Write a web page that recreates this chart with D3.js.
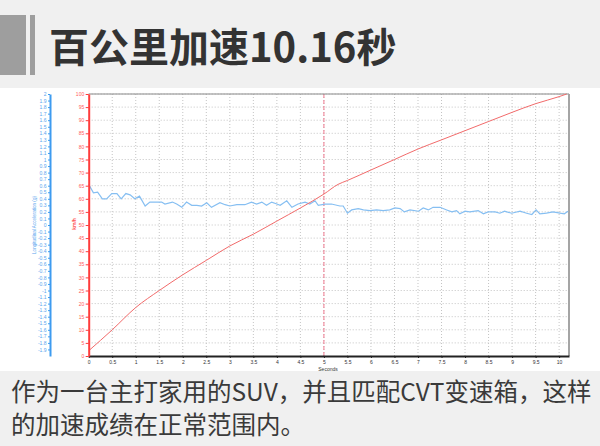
<!DOCTYPE html>
<html>
<head>
<meta charset="utf-8">
<script src="https://cdn.jsdelivr.net/npm/d3@7"></script>
<style>
  html, body { margin: 0; padding: 0; background: #f0f0f0; }
  svg { display: block; }
</style>
</head>
<body>
<svg id="chart" width="600" height="446"></svg>
<script>
// ---- data ----
const title = "百公里加速10.16秒";
const captionLines = [
  "作为一台主打家用的SUV，并且匹配CVT变速箱，这样",
  "的加速成绩在正常范围内。"
];

// speed trace (km/h) vs seconds
const speedTime = [0, 0.5, 1, 1.5, 2, 2.5, 3, 3.5, 4, 4.5, 5, 5.3, 5.5, 6, 6.5, 7, 7.5, 8, 8.5, 9, 9.5, 10, 10.16];
const speedKmh  = [2, 10, 18.5, 25, 31, 36.5, 42, 46.5, 51.5, 56.5, 61.8, 65.5, 67, 71, 75, 79, 82.5, 86, 89.5, 93, 96.3, 99, 100];

// longitudinal acceleration (g) vs seconds
const accelTime = [0, 0.10, 0.19, 0.29, 0.38, 0.49, 0.60, 0.69, 0.79, 0.88, 0.98, 1.08, 1.20, 1.30, 1.41, 1.55, 1.62,
  1.78, 1.87, 1.98, 2.08, 2.19, 2.30, 2.40, 2.51, 2.61, 2.79, 2.90, 3.00, 3.15, 3.32, 3.46, 3.57, 3.68, 3.78, 3.89,
  4.00, 4.07, 4.21, 4.32, 4.45, 4.60, 4.70, 4.81, 4.88, 5.02, 5.16, 5.34, 5.41, 5.50, 5.59, 5.73, 5.84, 5.98, 6.12,
  6.26, 6.40, 6.51, 6.62, 6.71, 6.83, 7.01, 7.11, 7.22, 7.32, 7.47, 7.61, 7.72, 7.82, 7.89, 8.00, 8.10, 8.28, 8.39,
  8.49, 8.64, 8.74, 8.84, 8.99, 9.17, 9.31, 9.42, 9.51, 9.59, 9.73, 9.87, 10.02, 10.11, 10.19];
const accelG = [0.62, 0.49, 0.50, 0.40, 0.40, 0.48, 0.48, 0.40, 0.48, 0.46, 0.40, 0.44, 0.29, 0.35, 0.35, 0.35, 0.32,
  0.35, 0.32, 0.27, 0.35, 0.30, 0.30, 0.29, 0.34, 0.27, 0.34, 0.31, 0.29, 0.31, 0.31, 0.35, 0.32, 0.35, 0.30, 0.35,
  0.32, 0.30, 0.37, 0.27, 0.32, 0.35, 0.32, 0.37, 0.30, 0.32, 0.32, 0.29, 0.29, 0.18, 0.23, 0.25, 0.23, 0.22, 0.23,
  0.22, 0.23, 0.26, 0.25, 0.20, 0.23, 0.21, 0.26, 0.23, 0.27, 0.27, 0.23, 0.20, 0.22, 0.17, 0.21, 0.20, 0.22, 0.17,
  0.20, 0.20, 0.18, 0.21, 0.18, 0.21, 0.18, 0.16, 0.23, 0.17, 0.18, 0.20, 0.18, 0.17, 0.21];

// tick labels
const secondTicks = [0, 0.5, 1, 1.5, 2, 2.5, 3, 3.5, 4, 4.5, 5, 5.5, 6, 6.5, 7, 7.5, 8, 8.5, 9, 9.5, 10];
const kmhTicks = [0, 5, 10, 15, 20, 25, 30, 35, 40, 45, 50, 55, 60, 65, 70, 75, 80, 85, 90, 95, 100];
const gTicks = [2, 1.9, 1.8, 1.7, 1.6, 1.5, 1.4, 1.3, 1.2, 1.1, 1, 0.9, 0.8, 0.7, 0.6, 0.5, 0.4, 0.3, 0.2, 0.1, 0,
  -0.1, -0.2, -0.3, -0.4, -0.5, -0.6, -0.7, -0.8, -0.9, -1, -1.1, -1.2, -1.3, -1.4, -1.5, -1.6, -1.7, -1.8, -1.9];
const markerSecond = 5;

// ---- layout ----
const svg = d3.select("#chart");
const plot = { left: 88.7, right: 569, top: 94, bottom: 356 };
const tickFont = "Liberation Sans, Arial, sans-serif";

const x = d3.scaleLinear().domain([0, 10.21]).range([plot.left, plot.right]);
const ySpeed = d3.scaleLinear().domain([0, 100]).range([plot.bottom, plot.top]);
const yAcc = d3.scaleLinear().domain([-2, 2]).range([plot.bottom, plot.top]);

// backgrounds
svg.append("rect").attr("width", 600).attr("height", 446).attr("fill", "#f0f0f0");
svg.append("rect").attr("x", 0).attr("y", 88).attr("width", 600).attr("height", 283).attr("fill", "#fff");

// title with its two grey bars
svg.append("rect").attr("x", 0).attr("y", 15).attr("width", 26).attr("height", 60).attr("fill", "#9e9e9e");
svg.append("rect").attr("x", 30).attr("y", 15).attr("width", 5).attr("height", 60).attr("fill", "#9e9e9e");
svg.append("text")
  .attr("x", 49).attr("y", 62)
  .attr("font-family", "Noto Sans CJK SC")
  .attr("font-weight", 700)
  .attr("font-size", 40)
  .attr("fill", "#333")
  .text(title);

// caption
svg.selectAll("text.caption")
  .data(captionLines)
  .enter().append("text")
  .attr("class", "caption")
  .attr("x", 11)
  .attr("y", (d, i) => 401 + i * 33)
  .attr("font-family", "Noto Sans CJK SC")
  .attr("font-size", 24.5)
  .attr("fill", "#3a3a3a")
  .text(d => d);

// grid
const grid = svg.append("g").attr("stroke", "#c4c4c4").attr("stroke-width", 1).attr("stroke-dasharray", "1,2");
grid.selectAll("line.v")
  .data(secondTicks.filter(d => d > 0))
  .enter().append("line")
  .attr("x1", d => x(d)).attr("x2", d => x(d))
  .attr("y1", plot.top).attr("y2", plot.bottom);
grid.selectAll("line.h")
  .data(kmhTicks.filter(d => d > 0))
  .enter().append("line")
  .attr("x1", plot.left).attr("x2", plot.right)
  .attr("y1", d => ySpeed(d)).attr("y2", d => ySpeed(d));

// 5 second marker
svg.append("line")
  .attr("x1", x(markerSecond)).attr("x2", x(markerSecond))
  .attr("y1", plot.top).attr("y2", plot.bottom)
  .attr("stroke", "#f27a90").attr("stroke-width", 1).attr("stroke-dasharray", "4,2");

// frame
svg.append("line").attr("x1", plot.left).attr("x2", plot.right).attr("y1", plot.top).attr("y2", plot.top)
  .attr("stroke", "#8a8a8a").attr("stroke-width", 1);
svg.append("line").attr("x1", plot.right).attr("x2", plot.right).attr("y1", plot.top).attr("y2", plot.bottom)
  .attr("stroke", "#a5a5a5").attr("stroke-width", 2);

// series
const speedLine = d3.line().x((d, i) => x(speedTime[i])).y(d => ySpeed(d)).curve(d3.curveMonotoneX);
const accLine = d3.line().x((d, i) => x(accelTime[i])).y(d => yAcc(d));

svg.append("path").datum(accelG)
  .attr("d", accLine)
  .attr("fill", "none").attr("stroke", "#86bff2").attr("stroke-width", 1.2);
svg.append("path").datum(speedKmh)
  .attr("d", speedLine)
  .attr("fill", "none").attr("stroke", "#f26b6b").attr("stroke-width", 1);

// axes
function styleAxis(g, lineColor, textColor, width) {
  g.select(".domain").attr("stroke", lineColor).attr("stroke-width", width);
  g.selectAll(".tick line").attr("stroke", lineColor);
  g.selectAll(".tick text").attr("fill", textColor);
  g.attr("font-family", tickFont).attr("font-size", 5);
}

svg.append("g")
  .attr("transform", `translate(0,${plot.bottom})`)
  .call(d3.axisBottom(x).tickValues(secondTicks).tickSize(2).tickPadding(2).tickSizeOuter(0)
    .tickFormat(d => String(d)))
  .call(styleAxis, "#222", "#333", 2);

svg.append("g")
  .attr("transform", `translate(${plot.left},0)`)
  .call(d3.axisLeft(ySpeed).tickValues(kmhTicks).tickSize(3).tickPadding(1.5).tickSizeOuter(0)
    .tickFormat(d => String(d)))
  .call(styleAxis, "#ff3b3b", "#ff5a5a", 2);

svg.append("g")
  .attr("transform", "translate(50,0)")
  .call(d3.axisLeft(yAcc).tickValues(gTicks).tickSize(2).tickPadding(1.5).tickSizeOuter(0)
    .tickFormat(d => String(+d.toFixed(1))))
  .call(styleAxis, "#3d9bf0", "#5aa5ee", 2);

// axis titles
svg.append("text")
  .attr("x", 328).attr("y", 370.5)
  .attr("text-anchor", "middle")
  .attr("font-family", tickFont).attr("font-size", 5).attr("fill", "#333")
  .text("Seconds");
svg.append("text")
  .attr("transform", "translate(76,224) rotate(-90)")
  .attr("text-anchor", "middle")
  .attr("font-family", tickFont).attr("font-size", 5).attr("font-weight", 700).attr("fill", "#ff5a5a")
  .text("km/h");
svg.append("text")
  .attr("transform", "translate(36,225) rotate(-90)")
  .attr("text-anchor", "middle")
  .attr("font-family", tickFont).attr("font-size", 4.6).attr("fill", "#5aa5ee")
  .text("Longitudinal Acceleration (g)");
</script>
</body>
</html>
